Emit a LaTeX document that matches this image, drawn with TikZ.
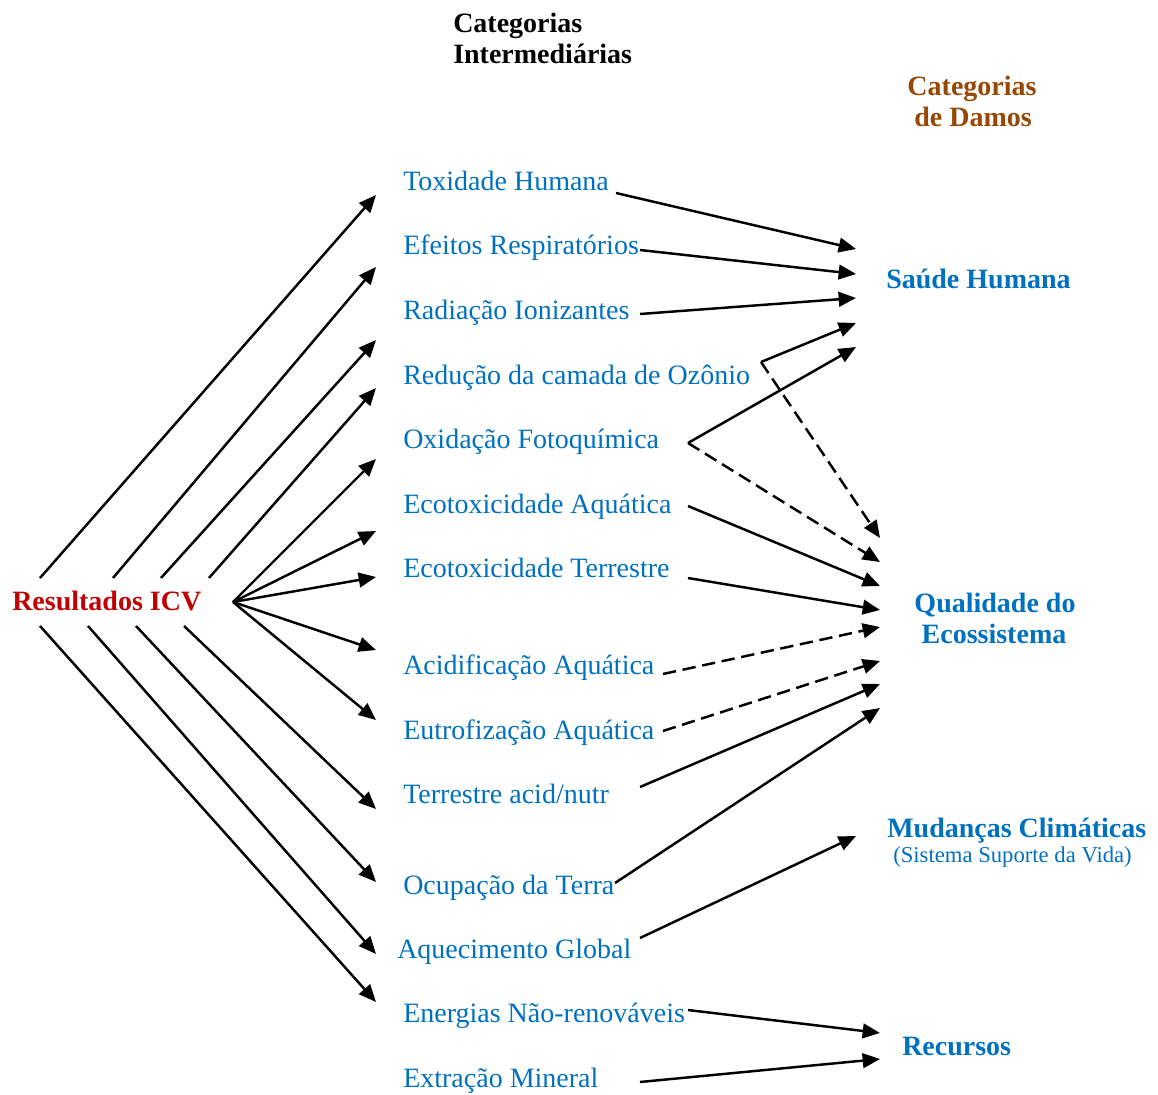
\documentclass[tikz,border=0pt]{standalone}
\usepackage{fontspec}
\setmainfont{Liberation Serif}
\usetikzlibrary{arrows.meta}
\definecolor{catblue}{HTML}{0070C0}
\definecolor{resred}{HTML}{C00000}
\definecolor{dambrown}{HTML}{984806}
\begin{document}
\begin{tikzpicture}[x=0.75pt,y=-0.75pt,
  txt/.style={inner sep=0pt,yshift=-1.5pt},
  lbl/.style={txt,anchor=base west,text=catblue,font=\fontsize{21}{25}\selectfont},
  dmg/.style={txt,anchor=base west,text=catblue,font=\fontsize{21}{25}\selectfont\bfseries},
  dmgc/.style={txt,anchor=base,text=catblue,font=\fontsize{21}{25}\selectfont\bfseries},
  hdr/.style={txt,anchor=base,font=\fontsize{21}{25}\selectfont\bfseries},
  arr/.style={line width=1.85pt,-{Triangle[length=13pt,width=11pt]}},
  darr/.style={arr,dash pattern=on 10pt off 5pt},
  seg/.style={line width=1.85pt}]
\useasboundingbox (0,0) rectangle (1158,1095);

% headers
\node[hdr,anchor=base west] (hi1) at (453,31) {Categorias};
\node[hdr,anchor=base west] (hi2) at (453,62) {Intermediárias};
\node[hdr,text=dambrown] (hd1) at (972,94) {Categorias};
\node[hdr,text=dambrown] (hd2) at (973,125) {de Damos};

% source
\node[txt,anchor=base west,text=resred,font=\fontsize{21}{25}\selectfont\bfseries] (res) at (12,608) {Resultados ICV};

% intermediate categories
\node[lbl] (c1) at (403,189) {Toxidade Humana};
\node[lbl] (c2) at (403,253) {Efeitos Respiratórios};
\node[lbl] (c3) at (403,318) {Radiação Ionizantes};
\node[lbl] (c4) at (403,382) {Redução da camada de Ozônio};
\node[lbl] (c5) at (403,446) {Oxidação Fotoquímica};
\node[lbl] (c6) at (403,511) {Ecotoxicidade Aquática};
\node[lbl] (c7) at (403,575) {Ecotoxicidade Terrestre};
\node[lbl] (c8) at (403,672) {Acidificação Aquática};
\node[lbl] (c9) at (403,737) {Eutrofização Aquática};
\node[lbl] (c10) at (403,801) {Terrestre acid/nutr};
\node[lbl] (c11) at (403,892) {Ocupação da Terra};
\node[lbl] (c12) at (397,956) {Aquecimento Global};
\node[lbl] (c13) at (403,1020) {Energias Não-renováveis};
\node[lbl] (c14) at (403,1085) {Extração Mineral};

% damage categories
\node[dmg] (d1) at (886,287) {Saúde Humana};
\node[dmgc] (d2a) at (995,610) {Qualidade do};
\node[dmgc] (d2b) at (994,641) {Ecossistema};
\node[dmg] (d3) at (887,835) {Mudanças Climáticas};
\node[txt,anchor=base west,text=catblue,font=\fontsize{17}{20}\selectfont] (d3s) at (893,860) {(Sistema Suporte da Vida)};
\node[dmg] (d4) at (902,1053) {Recursos};

% left fan coordinates
\coordinate (s1) at (40,578);
\coordinate (s2) at (113,578);
\coordinate (s3) at (161,578);
\coordinate (s4) at (209,578);
\coordinate (hub) at (233,602);
\coordinate (s10) at (184,626);
\coordinate (s11) at (136,626);
\coordinate (s12) at (88,626);
\coordinate (s13) at (40,626);
\coordinate (e1) at (376,195);
\coordinate (e2) at (376,267);
\coordinate (e3) at (376,340);
\coordinate (e4) at (376,388);
\coordinate (e5) at (376,459);
\coordinate (e6) at (376,531);
\coordinate (e7) at (376,577);
\coordinate (e8) at (376,650);
\coordinate (e9) at (376,720);
\coordinate (e10) at (376,809);
\coordinate (e11) at (376,882);
\coordinate (e12) at (376,954);
\coordinate (e13) at (376,1002);

\draw[arr] (s1) -- (e1);
\draw[arr] (s2) -- (e2);
\draw[arr] (s3) -- (e3);
\draw[arr] (s4) -- (e4);
\draw[arr] (hub) -- (e5);
\draw[arr] (hub) -- (e6);
\draw[arr] (hub) -- (e7);
\draw[arr] (hub) -- (e8);
\draw[arr] (hub) -- (e9);
\draw[arr] (s10) -- (e10);
\draw[arr] (s11) -- (e11);
\draw[arr] (s12) -- (e12);
\draw[arr] (s13) -- (e13);

% right side coordinates
\coordinate (t1) at (616,193);
\coordinate (t2) at (640,250);
\coordinate (t3) at (640,314);
\coordinate (t4) at (761,362);
\coordinate (t5) at (688,443);
\coordinate (t6) at (688,506);
\coordinate (t7) at (688,578);
\coordinate (t8) at (663,674);
\coordinate (t9) at (663,731);
\coordinate (t10) at (640,787);
\coordinate (t11) at (615,883);
\coordinate (t12) at (640,938);
\coordinate (t13) at (688,1010);
\coordinate (t14) at (640,1082);

\coordinate (h1) at (856,249);
\coordinate (h2) at (856,274);
\coordinate (h3) at (856,298);
\coordinate (h4) at (856,323);
\coordinate (h5) at (856,347);
\coordinate (q1) at (880,538);
\coordinate (q2) at (880,562);
\coordinate (q3) at (880,586);
\coordinate (q4) at (880,610);
\coordinate (q5) at (880,627);
\coordinate (q6) at (880,661);
\coordinate (q7) at (880,684);
\coordinate (q8) at (880,708);
\coordinate (m1) at (856,836);
\coordinate (r1) at (880,1033);
\coordinate (r2) at (880,1059);

\draw[arr] (t1) -- (h1);
\draw[arr] (t2) -- (h2);
\draw[arr] (t3) -- (h3);
\draw[arr] (t4) -- (h4);
\draw[darr] (t4) -- (q1);
\draw[arr] (t5) -- (h5);
\draw[darr] (t5) -- (q2);
\draw[arr] (t6) -- (q3);
\draw[arr] (t7) -- (q4);
\draw[darr] (t8) -- (q5);
\draw[darr] (t9) -- (q6);
\draw[arr] (t10) -- (q7);
\draw[arr] (t11) -- (q8);
\draw[arr] (t12) -- (m1);
\draw[arr] (t13) -- (r1);
\draw[arr] (t14) -- (r2);
\end{tikzpicture}
\end{document}
